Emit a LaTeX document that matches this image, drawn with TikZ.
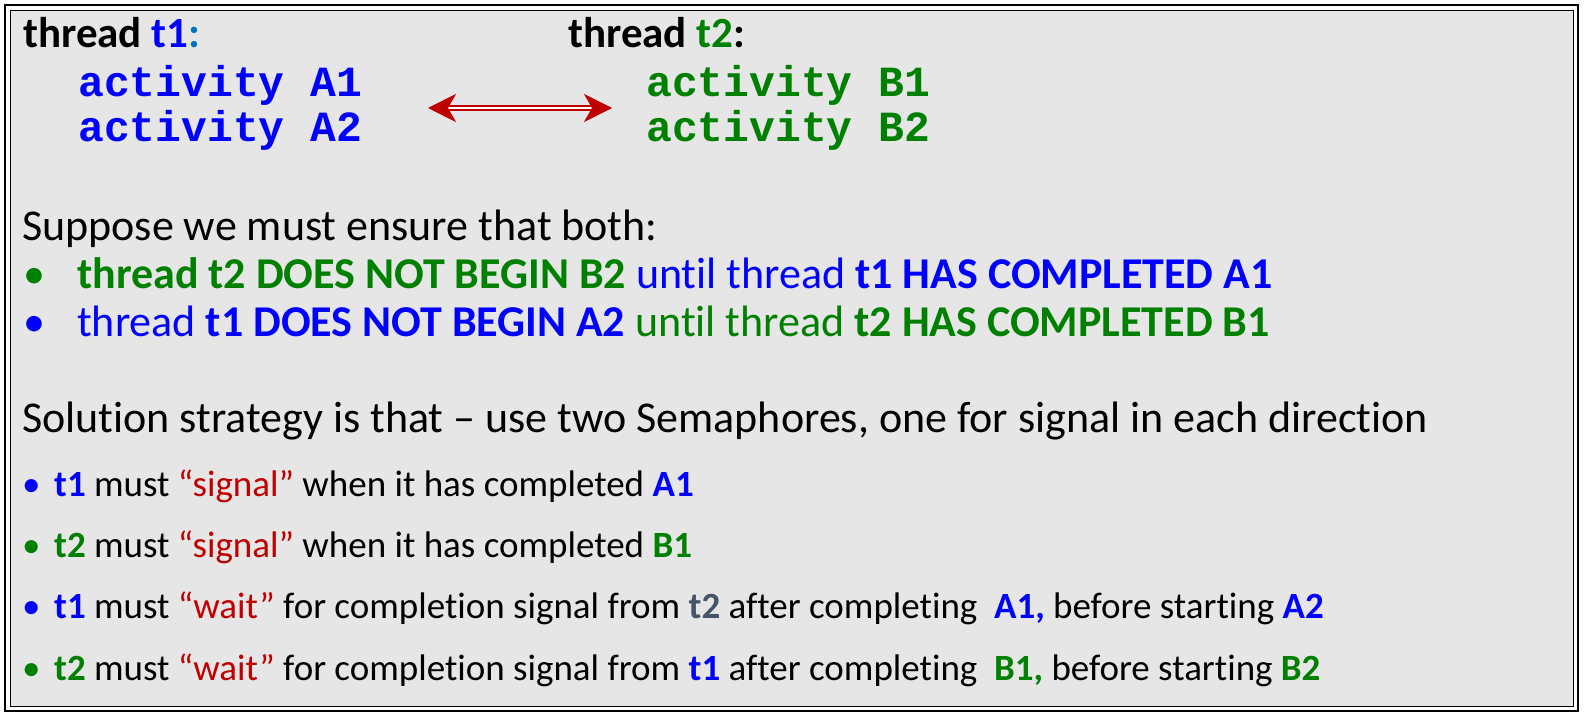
\documentclass[tikz,border=0pt]{standalone}
\usepackage{fontspec}
\setmainfont{Carlito}[Ligatures=NoCommon]
\newfontfamily\codefont{Liberation Mono}
\usetikzlibrary{arrows.meta}

\definecolor{tblue}{HTML}{0000FF}
\definecolor{tgreen}{HTML}{008000}
\definecolor{tred}{HTML}{C00000}
\definecolor{tcolon}{HTML}{0070C0}
\definecolor{tslate}{HTML}{44546A}
\definecolor{panel}{HTML}{E6E6E6}

\tikzset{
	head/.style = {anchor=base west, inner sep=0pt, font=\fontsize{43}{48}\selectfont\bfseries},
	txt/.style = {anchor=base west, inner sep=0pt, font=\fontsize{44}{50}\selectfont},
	code/.style = {anchor=base west, inner sep=0pt, font=\fontsize{43}{48}\codefont\bfseries},
	small/.style = {anchor=base west, inner sep=0pt, font=\fontsize{37}{42}\selectfont},
}

\newcommand{\bcol}[2]{\textcolor{#1}{\textbf{#2}}}

\begin{document}
\begin{tikzpicture}[x = 1pt, y = -1pt]
		
		\useasboundingbox (0, 0) rectangle (1587, 719);
		\fill[white] (0, 0) rectangle (1587, 719);
		\draw[line width = 2.5pt] (5, 5) rectangle (1578, 711);
		\draw[fill = panel, line width = 0.8pt] (10, 10) rectangle (1573, 706);
		
		\node[head] (thA) at (23, 48) {thread \textcolor{tblue}{t1}\textcolor{tcolon}{:}};
		\node[head] (thB) at (568, 48) {thread \textcolor{tgreen}{t2}:};
		
		\node[code, tblue] (actA1) at (78, 97) {activity A1};
		\node[code, tblue] (actA2) at (78, 142) {activity A2};
		\node[code, tgreen] (actB1) at (646, 97) {activity B1};
		\node[code, tgreen] (actB2) at (646, 142) {activity B2};
		
		\coordinate (arrL) at (428, 108);
		\coordinate (arrR) at (612, 108);
		\draw[tred, line width = 2pt, double = white, double distance = 2pt,
			{Stealth[length = 28pt, width = 28pt, inset = 8pt]}-{Stealth[length = 28pt, width = 28pt, inset = 8pt]}]
			(arrL) -- (arrR);
		
		\node[txt] (sup) at (22, 241) {Suppose we must ensure that both:};
		
		\node[txt, tgreen] (dotA) at (23, 288) {•};
		\node[txt] (reqA) at (77, 288) {\bcol{tgreen}{thread t2 DOES NOT BEGIN B2} \textcolor{tblue}{until thread} \bcol{tblue}{t1 HAS COMPLETED A1}};
		\node[txt, tblue] (dotB) at (23, 336) {•};
		\node[txt] (reqB) at (77, 336) {\textcolor{tblue}{thread} \bcol{tblue}{t1 DOES NOT BEGIN A2} \textcolor{tgreen}{until thread} \bcol{tgreen}{t2 HAS COMPLETED B1}};
		
		\node[txt] (sol) at (22, 432) {Solution strategy is that – use two Semaphores, one for signal in each direction};
		
		\node[small, tblue] (dot1) at (22, 496) {•};
		\node[small] (stp1) at (54, 496) {\bcol{tblue}{t1} must \textcolor{tred}{“signal”} when it has completed \bcol{tblue}{A1}};
		\node[small, tgreen] (dot2) at (22, 557) {•};
		\node[small] (stp2) at (54, 557) {\bcol{tgreen}{t2} must \textcolor{tred}{“signal”} when it has completed \bcol{tgreen}{B1}};
		\node[small, tblue] (dot3) at (22, 618) {•};
		\node[small] (stp3) at (54, 618) {\bcol{tblue}{t1} must \textcolor{tred}{“wait”} for completion signal from \bcol{tslate}{t2} after completing \ \bcol{tblue}{A1,} before starting \bcol{tblue}{A2}};
		\node[small, tgreen] (dot4) at (22, 680) {•};
		\node[small] (stp4) at (54, 680) {\bcol{tgreen}{t2} must \textcolor{tred}{“wait”} for completion signal from \bcol{tblue}{t1} after completing \ \bcol{tgreen}{B1,} before starting \bcol{tgreen}{B2}};
		
	\end{tikzpicture}
\end{document}
